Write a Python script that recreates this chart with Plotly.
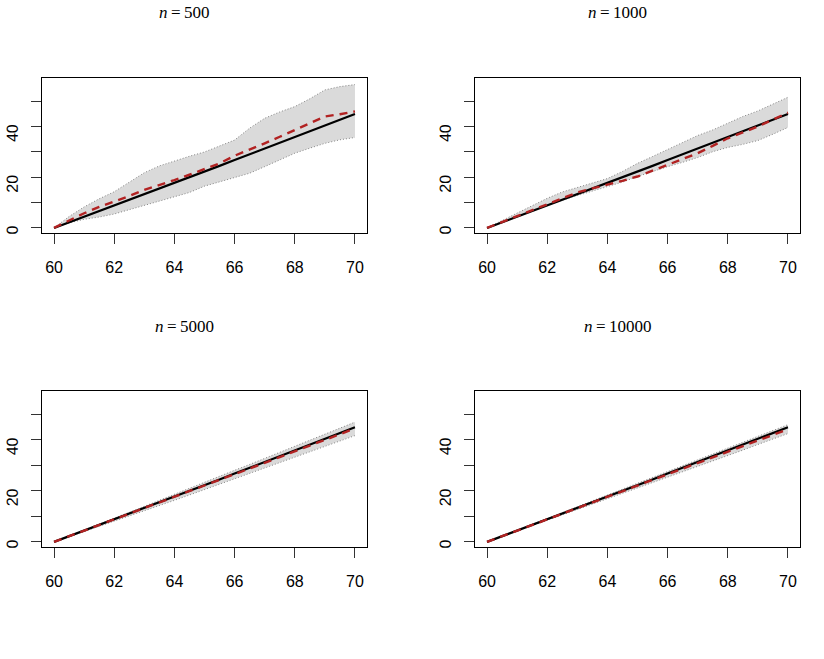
import plotly.graph_objects as go

# ---------------- data ----------------
x_age = [60, 60.5, 61, 61.5, 62, 62.5, 63, 63.5, 64, 64.5, 65,
         65.5, 66, 66.5, 67, 67.5, 68, 68.5, 69, 69.5, 70]

truth = [0, 2.2, 4.4, 6.6, 8.8, 11.0, 13.2, 15.4, 17.6, 19.9, 22.2,
         24.5, 26.8, 29.1, 31.4, 33.7, 36.0, 38.3, 40.6, 42.8, 45.0]

titles = ["500", "1000", "5000", "10000"]

upper_500 = [0, 4.5, 8.3, 11.5, 14.3, 18.0, 21.8, 24.5, 26.5, 28.3, 30.0,
             32.3, 34.7, 39.4, 43.3, 45.8, 47.9, 51.0, 54.5, 55.8, 56.6]
lower_500 = [0, 2.0, 3.4, 4.3, 5.5, 7.2, 8.7, 10.3, 12.3, 14.0, 16.5,
             18.2, 19.6, 21.6, 24.2, 27.0, 29.5, 31.5, 33.4, 34.8, 35.7]
est_500 = [0, 3.0, 5.8, 8.3, 10.4, 12.6, 15.0, 16.8, 18.9, 21.0, 23.3,
           25.5, 28.5, 30.8, 33.4, 36.0, 38.7, 41.5, 44.0, 44.9, 46.0]

upper_1000 = [0, 3.0, 5.8, 8.8, 11.7, 14.2, 16.0, 17.6, 19.5, 22.3, 25.5,
              28.2, 31.0, 34.0, 36.5, 38.7, 41.5, 44.0, 46.2, 49.0, 51.6]
lower_1000 = [0, 2.3, 4.4, 6.8, 9.1, 11.0, 12.8, 14.5, 16.3, 18.1, 20.3,
              22.3, 24.2, 25.9, 27.8, 30.1, 31.8, 33.0, 34.5, 37.0, 39.7]
est_1000 = [0, 2.3, 4.6, 7.0, 9.5, 11.8, 14.0, 15.6, 17.0, 18.6, 20.3,
            22.6, 24.9, 27.1, 29.5, 32.4, 35.4, 37.7, 40.0, 42.8, 45.5]

upper_5000 = [0, 2.4, 4.7, 7.0, 9.3, 11.6, 14.0, 16.3, 18.6, 21.0, 23.3,
              25.7, 28.1, 30.4, 32.8, 35.2, 37.6, 40.0, 42.3, 44.7, 47.0]
lower_5000 = [0, 2.0, 4.1, 6.1, 8.2, 10.2, 12.3, 14.3, 16.3, 18.4, 20.5,
              22.6, 24.7, 26.8, 29.0, 31.1, 33.3, 35.4, 37.5, 39.6, 41.7]
est_5000 = [0, 2.2, 4.4, 6.5, 8.7, 10.9, 13.1, 15.3, 17.5, 19.8, 22.0,
            24.2, 26.5, 28.8, 31.0, 33.3, 35.6, 37.8, 40.1, 42.3, 44.5]

upper_10000 = [0, 2.3, 4.6, 6.9, 9.2, 11.4, 13.7, 16.0, 18.3, 20.6, 22.9,
               25.2, 27.5, 29.8, 32.1, 34.4, 36.7, 39.0, 41.4, 43.7, 46.0]
lower_10000 = [0, 2.1, 4.2, 6.3, 8.4, 10.5, 12.6, 14.7, 16.8, 19.0, 21.1,
               23.2, 25.3, 27.5, 29.6, 31.7, 33.9, 36.0, 38.2, 40.3, 42.5]
est_10000 = [0, 2.2, 4.4, 6.5, 8.7, 10.9, 13.1, 15.3, 17.5, 19.7, 21.9,
             24.1, 26.3, 28.6, 30.8, 33.0, 35.2, 37.5, 39.7, 41.9, 44.2]

x_ticks = [60, 62, 64, 66, 68, 70]
y_ticks = [0, 10, 20, 30, 40, 50]
y_ticktext = ["0", "", "20", "", "40", ""]

panels = [
    (upper_500, lower_500, est_500),
    (upper_1000, lower_1000, est_1000),
    (upper_5000, lower_5000, est_5000),
    (upper_10000, lower_10000, est_10000),
]

# ---------------- layout geometry (pixels) ----------------
W, H = 824, 659
col_px = [(42, 367), (475, 800)]
row_px = [(78, 233), (391, 547)]
title_pos = [(184, 13), (617, 13), (184, 326), (617, 326)]

fig = go.Figure()
layout = dict(
    width=W, height=H,
    margin=dict(l=0, r=0, t=0, b=0),
    paper_bgcolor="white", plot_bgcolor="white",
    showlegend=False,
    annotations=[],
)

band_fill = "#dadada"
band_line = "#6a6a6a"

for i, (up, lo, est) in enumerate(panels):
    r, c = divmod(i, 2)
    ax = "" if i == 0 else str(i + 1)
    xa, ya = "x" + ax, "y" + ax
    # band
    fig.add_trace(go.Scatter(x=x_age, y=up, mode="lines", xaxis=xa, yaxis=ya,
                             line=dict(color=band_line, width=0.8, dash="1px,2px"),
                             hoverinfo="skip"))
    fig.add_trace(go.Scatter(x=x_age, y=lo, mode="lines", xaxis=xa, yaxis=ya,
                             fill="tonexty", fillcolor=band_fill,
                             line=dict(color=band_line, width=0.8, dash="1px,2px"),
                             hoverinfo="skip"))
    # truth
    fig.add_trace(go.Scatter(x=x_age, y=truth, mode="lines", xaxis=xa, yaxis=ya,
                             line=dict(color="black", width=2.2)))
    # estimate
    fig.add_trace(go.Scatter(x=x_age, y=est, mode="lines", xaxis=xa, yaxis=ya,
                             line=dict(color="#b22222", width=2.4, dash="8px,6px")))

    x0, x1 = col_px[c]
    y0, y1 = row_px[r]
    common = dict(showline=True, linecolor="black", linewidth=1, mirror=True,
                  ticks="outside", ticklen=10, tickcolor="#333333", tickwidth=1,
                  showgrid=False, zeroline=False,
                  tickfont=dict(family="Liberation Sans, Arial, sans-serif",
                                size=16, color="black"))
    layout["xaxis" + ax] = dict(
        domain=[x0 / W, x1 / W], anchor=ya, range=[59.6, 70.4],
        tickvals=x_ticks, ticklabelstandoff=10, **common)
    layout["yaxis" + ax] = dict(
        domain=[1 - y1 / H, 1 - y0 / H], anchor=xa, range=[-2.0, 59.2],
        tickvals=y_ticks, ticktext=y_ticktext, tickangle=-89.9,
        ticklabelstandoff=18, **common)

    tx, ty = title_pos[i]
    layout["annotations"].append(dict(
        x=tx / W, y=1 - ty / H, xref="paper", yref="paper",
        text="<i>n</i>\u2009=\u2009" + titles[i], showarrow=False,
        xanchor="center", yanchor="middle",
        font=dict(family="Liberation Serif, Times New Roman, serif", size=17, color="black")))

fig.update_layout(**layout)
fig.write_html("out.html")
